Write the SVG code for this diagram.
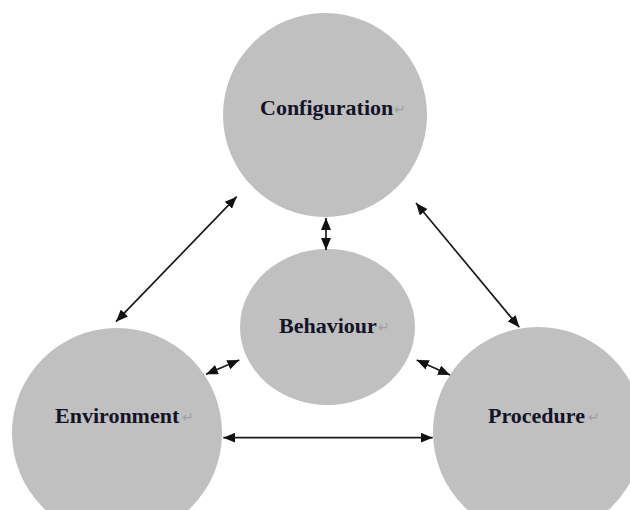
<svg xmlns="http://www.w3.org/2000/svg" width="630" height="510" viewBox="0 0 630 510">
<style>
.node{fill:#c0c0c0;stroke:none}
.lbl{font-family:"Liberation Serif","Times New Roman",serif;font-weight:bold;font-size:22px;fill:#141428}
.mark{font-family:"DejaVu Sans",sans-serif;font-size:14px;fill:#a0a0a0}
.conn{stroke:#1a1a1a;stroke-width:1.7;fill:none;marker-start:url(#ah);marker-end:url(#ah)}
</style>
<defs>
<marker id="ah" markerUnits="userSpaceOnUse" markerWidth="13" markerHeight="10" refX="12" refY="5" orient="auto-start-reverse" viewBox="0 0 13 10">
<path d="M0,0 L12,5 L0,10 z" fill="#111"/>
</marker>
</defs>
<rect width="630" height="510" fill="#ffffff"/>
<g id="configuration">
<circle class="node" cx="325" cy="115" r="102"/>
<text class="lbl" x="260" y="115">Configuration</text>
<text class="mark" x="394" y="114">↵</text>
</g>
<g id="behaviour">
<ellipse class="node" cx="327.5" cy="327" rx="87.5" ry="78"/>
<text class="lbl" x="279" y="333">Behaviour</text>
<text class="mark" x="378" y="332">↵</text>
</g>
<g id="environment">
<circle class="node" cx="117" cy="433" r="105"/>
<text class="lbl" x="55" y="423">Environment</text>
<text class="mark" x="182" y="422">↵</text>
</g>
<g id="procedure">
<circle class="node" cx="538" cy="432" r="105"/>
<text class="lbl" x="488" y="423">Procedure</text>
<text class="mark" x="588" y="422">↵</text>
</g>
<g id="connectors">
<line class="conn" x1="236.7" y1="196.7" x2="116" y2="321.7"/>
<line class="conn" x1="416" y1="203" x2="519.3" y2="327.3"/>
<line class="conn" x1="326" y1="218" x2="326" y2="250"/>
<line class="conn" x1="206" y1="374.3" x2="239.3" y2="360"/>
<line class="conn" x1="416.7" y1="360" x2="450" y2="375"/>
<line class="conn" x1="223.3" y1="437.7" x2="432.7" y2="437.7"/>
</g>
</svg>
